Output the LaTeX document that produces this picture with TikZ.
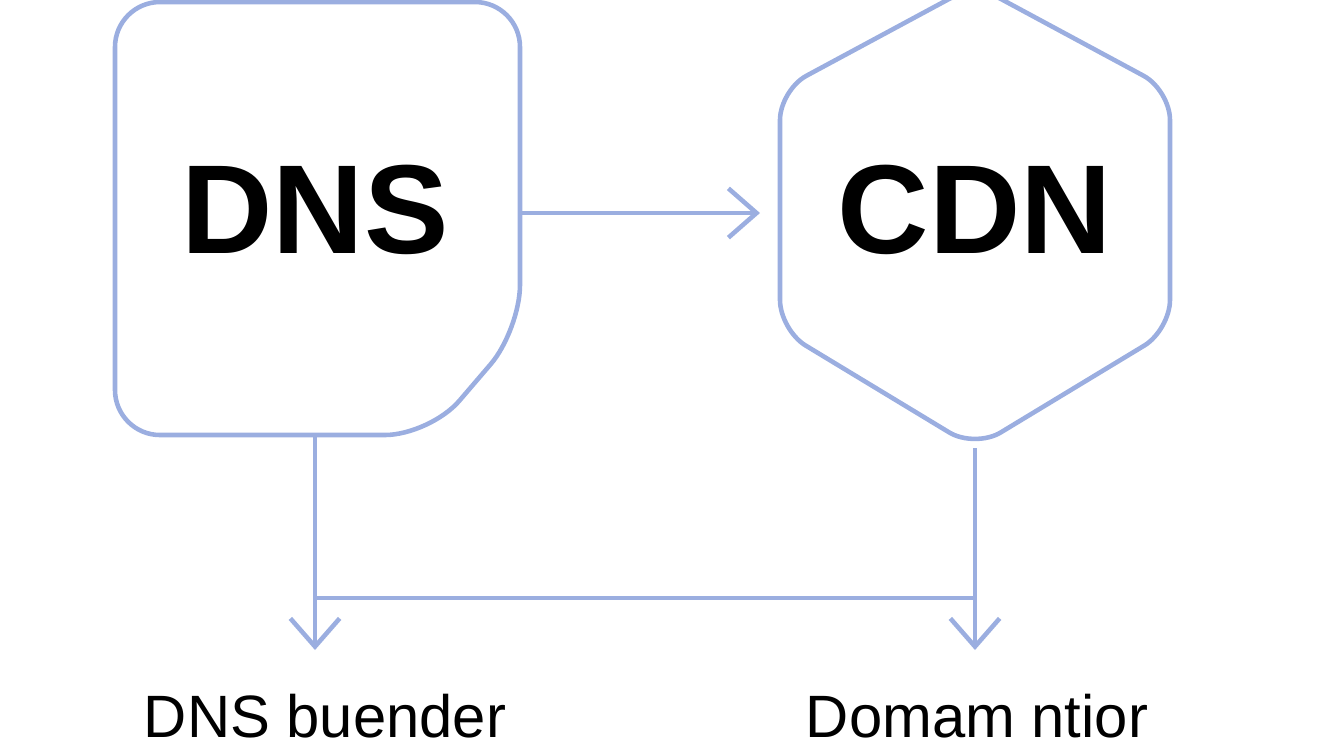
\documentclass[tikz,border=0pt]{standalone}
\usepackage{fontspec}
\setmainfont{Liberation Sans}
\usetikzlibrary{arrows.meta, positioning}
\definecolor{edgeblue}{HTML}{9BAEE0}
\begin{document}
\begin{tikzpicture}[
    x=0.01cm, y=-0.01cm,
    box line/.style={draw=edgeblue, line width=1.3pt, rounded corners=0.45cm},
    hex line/.style={draw=edgeblue, line width=1.3pt, rounded corners=0.3cm},
    arrow/.style={-{Straight Barb[length=8pt, width=14pt, line width=1.3pt]}, draw=edgeblue, line width=1.3pt},
    link/.style={draw=edgeblue, line width=1.3pt},
    big/.style={font=\bfseries\fontsize{36}{40}\selectfont},
    label/.style={font=\fontsize{17}{20}\selectfont}
]
\useasboundingbox (0,0) rectangle (1344,750);

% Boxes
\draw[box line] (115,2) -- (520,2) -- (520,330) -- (430,435) -- (115,435) -- cycle;
\draw[hex line] (975,-15) -- (1170,90) -- (1170,330) -- (975,448) -- (780,330) -- (780,90) -- cycle;

\node[big] (dns) at (315,210) {DNS};
\node[big] (cdn) at (975,210) {CDN};

\coordinate (dnsE) at (522,213);
\coordinate (cdnW) at (760,213);
\coordinate (dnsS) at (315,435);
\coordinate (cdnS) at (975,448);
\coordinate (joinL) at (315,598);
\coordinate (joinR) at (975,598);

% Labels
\node[label] (dnsl) at (325,716) {DNS buender};
\node[label] (cdnl) at (977,716) {Domam ntior};

\coordinate (dnsT) at (315,650);
\coordinate (cdnT) at (975,650);

% Connectors
\draw[arrow] (dnsE) -- (cdnW);
\draw[arrow] (dnsS) -- (dnsT);
\draw[arrow] (cdnS) -- (cdnT);
\draw[link] (joinL) -- (joinR);

\end{tikzpicture}
\end{document}
